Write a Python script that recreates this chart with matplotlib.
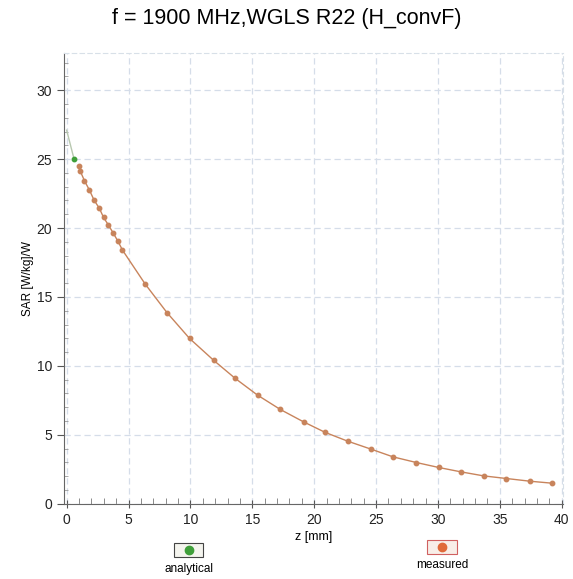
import matplotlib.pyplot as plt
from matplotlib.patches import Rectangle
from matplotlib.lines import Line2D

plt.rcParams['font.family'] = ['Liberation Sans', 'DejaVu Sans']

# measured SAR along z
z_meas = [1.01, 1.09, 1.44, 1.84, 2.22, 2.65, 2.98, 3.38, 3.78, 4.14, 4.51,
          6.35, 8.10, 9.93, 11.87, 13.62, 15.42, 17.26, 19.14, 20.90, 22.70,
          24.59, 26.37, 28.25, 30.06, 31.87, 33.69, 35.53, 37.47, 39.22]
sar_meas = [24.49, 24.15, 23.43, 22.75, 22.02, 21.42, 20.77, 20.21, 19.61, 19.05, 18.40,
            15.93, 13.87, 11.99, 10.41, 9.09, 7.88, 6.84, 5.94, 5.17, 4.54,
            3.96, 3.40, 2.99, 2.63, 2.31, 2.02, 1.83, 1.63, 1.49]

# analytical (only the start is visible)
z_ana = [0.0, 0.6]
sar_ana = [27.1, 25.0]

x_ticks = [0, 5, 10, 15, 20, 25, 30, 35, 40]
y_ticks = [0, 5, 10, 15, 20, 25, 30]

brown = '#c8845c'
green = '#3f9f3a'

fig = plt.figure(figsize=(5.73, 5.79), dpi=100)
ax = fig.add_axes([0.112, 0.130, 0.8705, 0.7785])

ax.plot(z_ana, sar_ana, color='#b8c8b0', lw=1.0, zorder=2)
ax.plot(z_ana[1:], sar_ana[1:], 'o', color=green, ms=3.2, zorder=4)
ax.plot(z_meas, sar_meas, '-o', color=brown, lw=1.0, ms=3.2, zorder=3)

ax.set_xlim(-0.2, 40.1)
ax.set_ylim(0, 32.7)
ax.set_xticks(x_ticks)
ax.set_yticks(y_ticks)
ax.set_xticks(range(0, 41), minor=True)
ax.set_yticks(range(0, 33), minor=True)
ax.tick_params(axis='both', which='major', labelsize=10, color='#555555',
               labelcolor='#222222', length=5)
ax.tick_params(axis='x', which='minor', direction='in', length=4, color='#777777')
ax.tick_params(axis='y', which='minor', direction='in', length=3, color='#999999')
ax.tick_params(axis='x', which='major', direction='inout', length=6)

ax.grid(True, which='major', color='#d5dde9', linestyle=(0, (5, 3)), lw=0.9)
for side in ['top', 'right']:
    ax.spines[side].set_color('#d8e0e8')
    ax.spines[side].set_linestyle((0, (4, 3)))
ax.spines['left'].set_color('#666666')
ax.spines['bottom'].set_color('#666666')

ax.set_xlabel('z [mm]', fontsize=9, labelpad=3)
ax.set_ylabel('SAR [W/kg]/W', fontsize=8.5, labelpad=2)

fig.text(0.5, 0.968, 'f = 1900 MHz,WGLS R22 (H_convF)', ha='center', va='center',
         fontsize=15.5)

# legend boxes under the plot
fig.add_artist(Rectangle((0.303, 0.038), 0.052, 0.025, transform=fig.transFigure,
                         facecolor='#f4f4ee', edgecolor='#444444', lw=0.8))
fig.add_artist(Line2D([0.329], [0.0505], transform=fig.transFigure, marker='o',
                      color=green, ms=6))
fig.text(0.329, 0.018, 'analytical', ha='center', va='center', fontsize=8.5)

fig.add_artist(Rectangle((0.746, 0.043), 0.052, 0.025, transform=fig.transFigure,
                         facecolor='#f8eee8', edgecolor='#d06060', lw=0.8))
fig.add_artist(Line2D([0.772], [0.0555], transform=fig.transFigure, marker='o',
                      color='#e06a3a', ms=6))
fig.text(0.772, 0.024, 'measured', ha='center', va='center', fontsize=8.5)

fig.savefig('out.png', dpi=100)
